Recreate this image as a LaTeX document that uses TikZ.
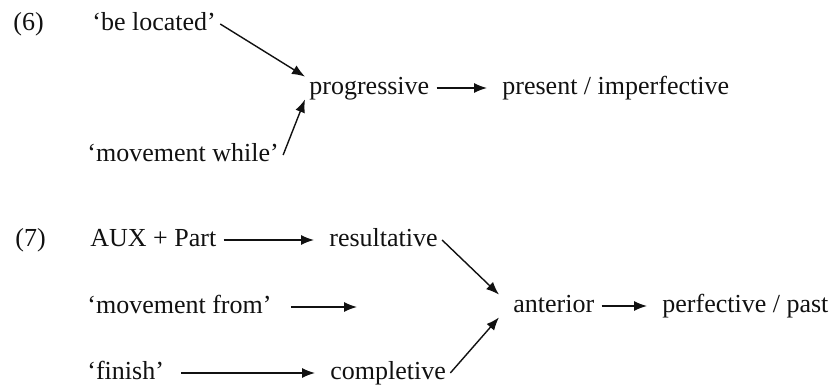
\documentclass[tikz,border=0pt]{standalone}
\usepackage{fontspec}
\setmainfont{Liberation Serif}
\usepackage{tikz}
\usetikzlibrary{arrows.meta, positioning, calc}
\definecolor{inkblack}{HTML}{111111}
\tikzset{
  arr/.style={-{Latex[length=6.5pt,width=5pt]}, line width=0.7pt, inkblack},
  harr/.style={arr, shorten <=1.5pt, shorten >=5.5pt},
  term/.style={inner xsep=2pt, inner ysep=0pt, text height=9pt, text depth=2pt, anchor=base west, text=inkblack},
}

\begin{document}
\begin{tikzpicture}[x=0.5pt, y=-0.5pt, font=\fontsize{13}{15}\selectfont]
  \useasboundingbox (0,0) rectangle (832,385);

  % (6) sources of the progressive
  \node[term] (ex6) at (9,31) {(6)};
  \node[term] (loc) at (88,31) {‘be located’};
  \node[term] (prog) at (305,95) {progressive};
  \node[term] (pres) at (498,95) {present / imperfective};
  \node[term] (mvw) at (83,162) {‘movement while’};

  \draw[arr] (loc.east) -- (prog.north west);
  \draw[arr] (mvw.east) -- (prog.south west);
  \draw[harr] (prog.east) -- (pres.west);

  % (7) sources of the anterior
  \node[term] (ex7) at (11,247) {(7)};
  \node[term] (aux) at (86,247) {AUX + Part};
  \node[term] (res) at (325,247) {resultative};
  \node[term] (mvf) at (83,314) {‘movement from’};
  \node[term] (ant) at (509,313) {anterior};
  \node[term] (perf) at (658,313) {perfective / past};
  \node[term] (fin) at (83,380) {‘finish’};
  \node[term] (comp) at (326,380) {completive};
  \coordinate (mvfend) at (357,307);

  \draw[harr] (aux.east) -- (res.west);
  \draw[arr, shorten <=7.5pt] (mvf.east) -- (mvfend);
  \draw[harr, shorten <=6.5pt] (fin.east) -- (comp.west);
  \draw[arr] (res.east) -- ([xshift=-5pt]ant.north west);
  \draw[arr] (comp.east) -- ([xshift=-5pt]ant.south west);
  \draw[harr] (ant.east) -- (perf.west);
\end{tikzpicture}
\end{document}
